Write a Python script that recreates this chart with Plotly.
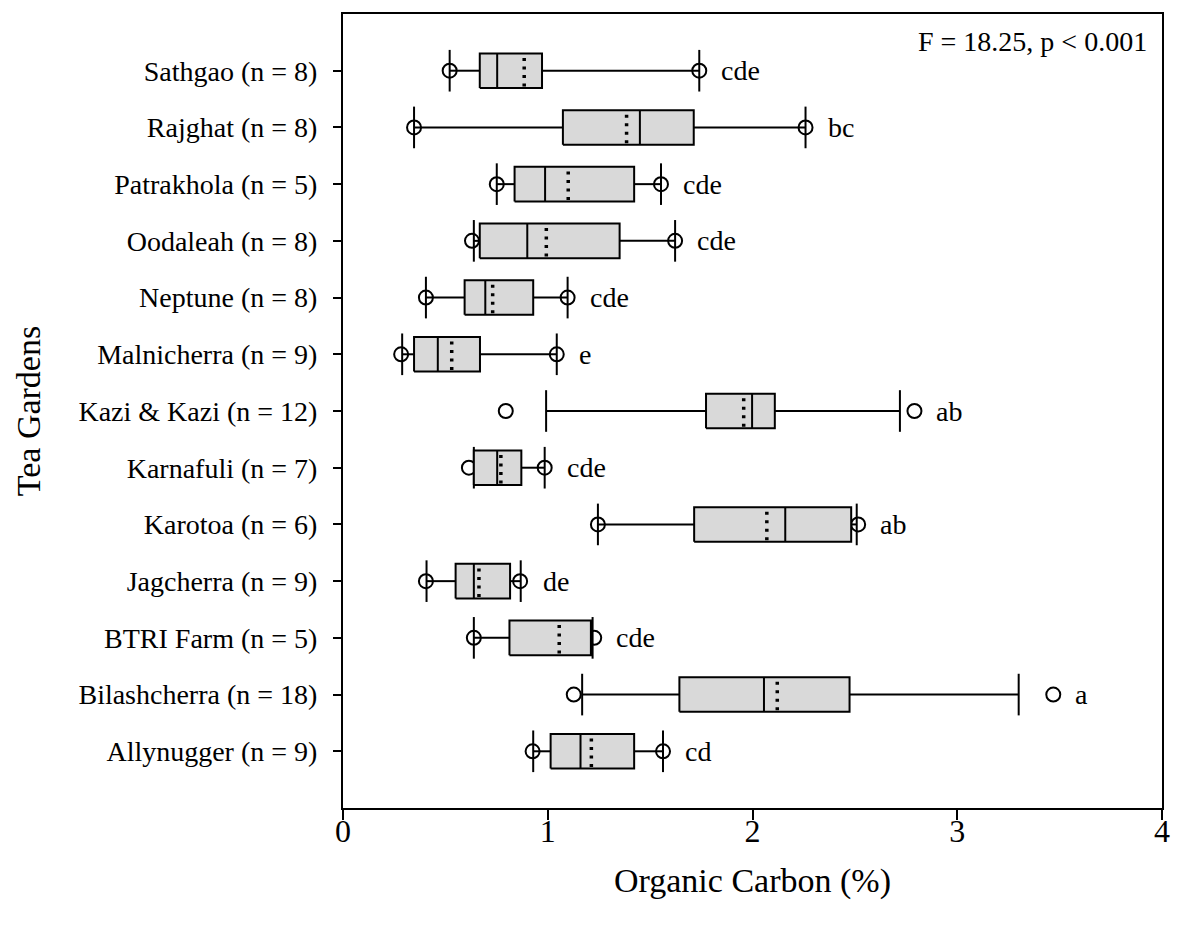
import plotly.graph_objects as go

# Categories, bottom (index 0) to top
gardens = ["Allynugger (n = 9)", "Bilashcherra (n = 18)", "BTRI Farm (n = 5)",
           "Jagcherra (n = 9)", "Karotoa (n = 6)", "Karnafuli (n = 7)",
           "Kazi & Kazi (n = 12)", "Malnicherra (n = 9)", "Neptune (n = 8)",
           "Oodaleah (n = 8)", "Patrakhola (n = 5)", "Rajghat (n = 8)",
           "Sathgao (n = 8)"]

whisk_lo = [0.929, 1.168, 0.639, 0.408, 1.245, 0.639, 0.992, 0.289, 0.405, 0.639, 0.751, 0.347, 0.521]
q1       = [1.014, 1.643, 0.813, 0.550, 1.715, 0.639, 1.773, 0.347, 0.594, 0.668, 0.838, 1.074, 0.668]
median   = [1.160, 2.056, 1.211, 0.639, 2.160, 0.753, 1.998, 0.463, 0.695, 0.900, 0.987, 1.450, 0.753]
mean     = [1.213, 2.121, 1.056, 0.664, 2.070, 0.771, 1.957, 0.531, 0.731, 0.993, 1.100, 1.385, 0.885]
q3       = [1.422, 2.474, 1.211, 0.816, 2.482, 0.871, 2.109, 0.669, 0.929, 1.351, 1.422, 1.713, 0.972]
whisk_hi = [1.563, 3.300, 1.219, 0.868, 2.509, 0.985, 2.720, 1.044, 1.097, 1.622, 1.553, 2.259, 1.740]

pt_lo = [0.926, 1.127, 0.639, 0.405, 1.245, 0.615, 0.795, 0.284, 0.405, 0.630, 0.751, 0.347, 0.521]
pt_hi = [1.563, 3.469, 1.227, 0.865, 2.516, 0.985, 2.791, 1.044, 1.097, 1.622, 1.553, 2.259, 1.740]

letters = ["cd", "a", "cde", "de", "ab", "cde", "ab", "e", "cde", "cde", "cde", "bc", "cde"]

x_ticks = [0, 1, 2, 3, 4]
stat_text = "F = 18.25, p < 0.001"

FONT = "Liberation Serif, Times New Roman, serif"
BOX_H = 0.305   # half height of box (category units)
CAP_H = 0.367   # half height of whisker caps
FILL = "rgb(217,217,217)"

pos = list(range(len(gardens)))
fig = go.Figure()

# outer points (circles) drawn first so boxes cover them
fig.add_trace(go.Scatter(
    x=pt_lo + pt_hi, y=pos + pos, mode="markers",
    marker=dict(symbol="circle-open", size=14, color="black", line=dict(width=2)),
    hoverinfo="skip", showlegend=False))

# whiskers
wx, wy = [], []
for i in pos:
    wx += [whisk_lo[i], q1[i], None, q3[i], whisk_hi[i], None]
    wy += [i, i, None, i, i, None]
fig.add_trace(go.Scatter(x=wx, y=wy, mode="lines", line=dict(color="black", width=2),
                         hoverinfo="skip", showlegend=False))

# caps
cx, cy = [], []
for i in pos:
    cx += [whisk_lo[i], whisk_lo[i], None, whisk_hi[i], whisk_hi[i], None]
    cy += [i - CAP_H, i + CAP_H, None, i - CAP_H, i + CAP_H, None]
fig.add_trace(go.Scatter(x=cx, y=cy, mode="lines", line=dict(color="black", width=2),
                         hoverinfo="skip", showlegend=False))

# boxes
for i in pos:
    fig.add_trace(go.Scatter(
        x=[q1[i], q3[i], q3[i], q1[i], q1[i]],
        y=[i - BOX_H, i - BOX_H, i + BOX_H, i + BOX_H, i - BOX_H],
        mode="lines", fill="toself", fillcolor=FILL,
        line=dict(color="black", width=2), hoverinfo="skip", showlegend=False))

# medians
mx, my = [], []
for i in pos:
    mx += [median[i], median[i], None]
    my += [i - BOX_H, i + BOX_H, None]
fig.add_trace(go.Scatter(x=mx, y=my, mode="lines", line=dict(color="black", width=2),
                         hoverinfo="skip", showlegend=False))

# means (dotted)
for i in pos:
    fig.add_trace(go.Scatter(
        x=[mean[i], mean[i]], y=[i + BOX_H - 0.08, i - BOX_H],
        mode="lines", line=dict(color="black", width=3.5, dash="3px,5.5px"),
        hoverinfo="skip", showlegend=False))

# significance letters
for i in pos:
    fig.add_annotation(x=max(whisk_hi[i], pt_hi[i]), y=i, text=letters[i],
                       xref="x", yref="y", xanchor="left", yanchor="middle",
                       xshift=20, showarrow=False,
                       font=dict(family=FONT, size=28, color="black"))

fig.add_annotation(x=1, y=1, xref="paper", yref="paper", xanchor="right", yanchor="top",
                   xshift=-13, yshift=-10, text=stat_text, showarrow=False,
                   font=dict(family=FONT, size=28, color="black"))

fig.update_layout(
    width=1179, height=926,
    margin=dict(l=343, r=9, t=14, b=118),
    paper_bgcolor="white", plot_bgcolor="white",
    font=dict(family=FONT, size=28, color="black"),
    showlegend=False,
    xaxis=dict(range=[0, 4], tickvals=x_ticks, ticktext=[str(t) for t in x_ticks],
               showgrid=False, zeroline=False, showline=True, linecolor="black",
               linewidth=2, mirror=True, ticks="outside", ticklen=10, tickwidth=2,
               tickcolor="black", tickfont=dict(family=FONT, size=32),
               ticklabelstandoff=-16,
               title=dict(text="Organic Carbon (%)", font=dict(family=FONT, size=34),
                          standoff=20)),
    yaxis=dict(range=[-1, 13], tickvals=pos, ticktext=gardens,
               showgrid=False, zeroline=False, showline=True, linecolor="black",
               linewidth=2, mirror=True, ticks="outside", ticklen=8, tickwidth=2,
               tickcolor="black", tickfont=dict(family=FONT, size=28),
               ticklabelstandoff=10,
               title=dict(text="Tea Gardens", font=dict(family=FONT, size=34),
                          standoff=28)),
)

fig.write_html("out.html")
